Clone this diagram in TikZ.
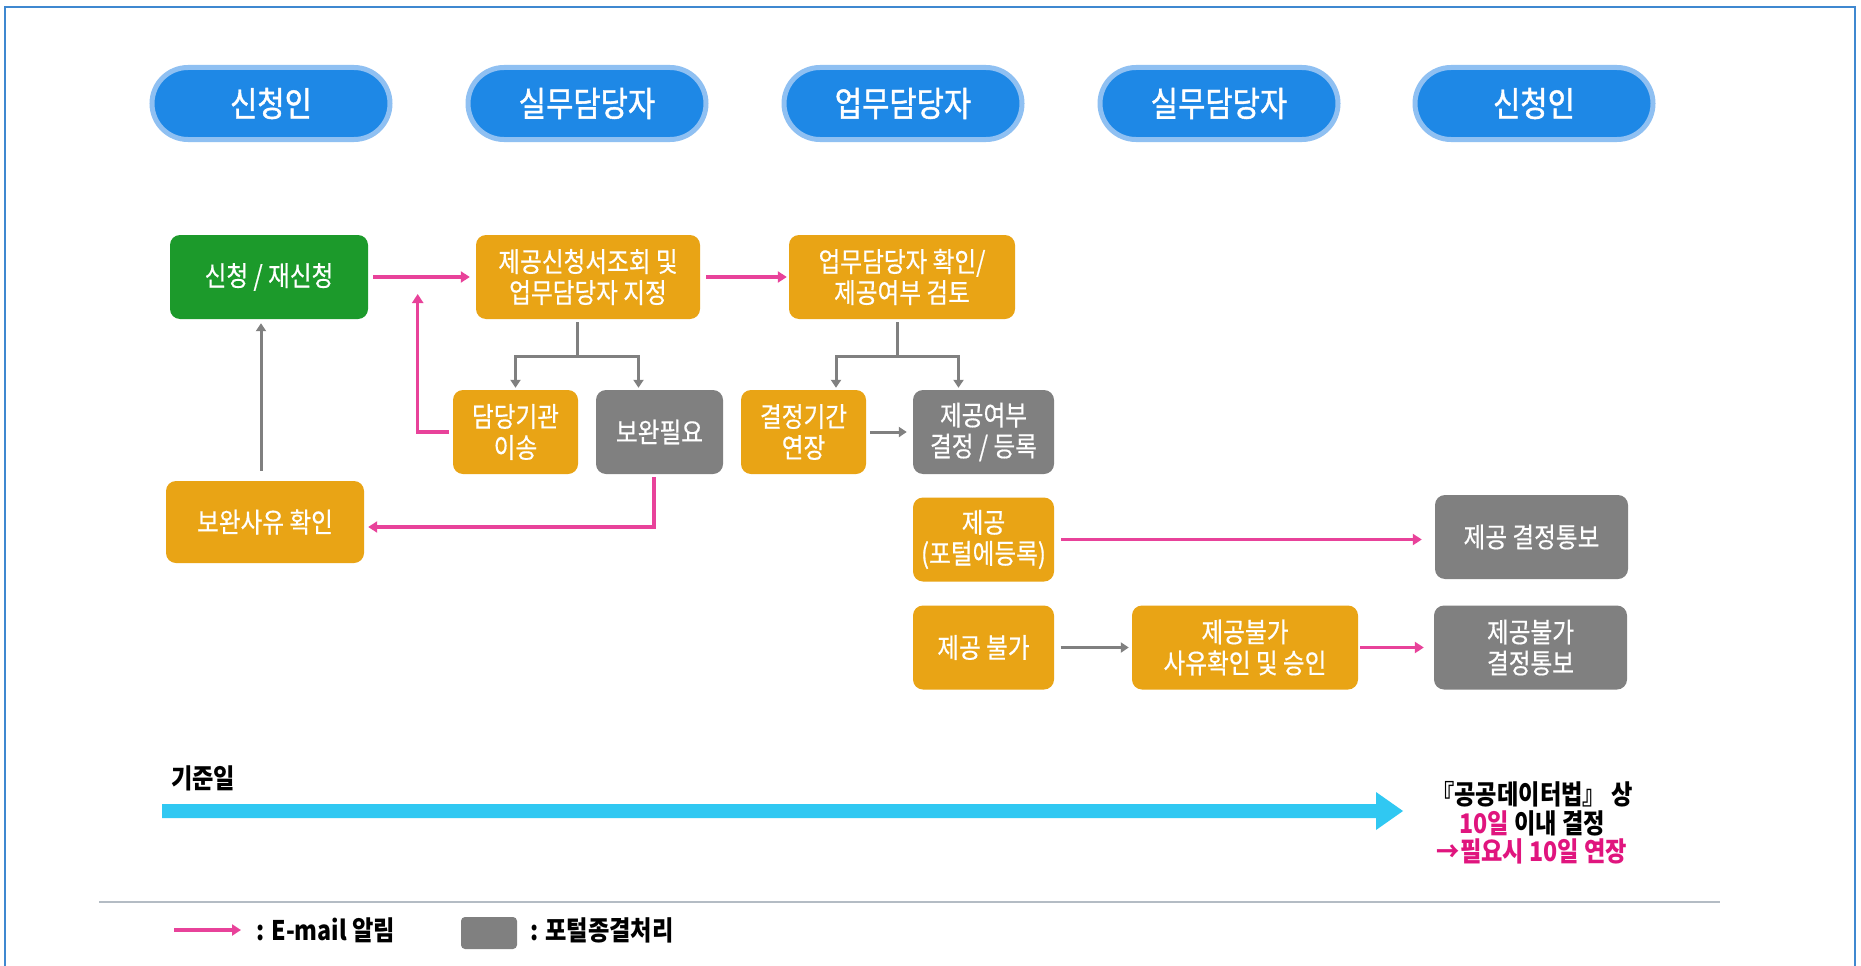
\documentclass[tikz,border=0pt]{standalone}
\usepackage{fontspec}
\setmainfont{Noto Sans CJK KR}
\newfontfamily\cnm[FakeStretch=0.86,FakeBold=0.5]{Noto Sans CJK KR}
\newfontfamily\cnp[FakeStretch=0.86,FakeBold=1.2]{Noto Sans CJK KR}
\newfontfamily\cnb[FakeStretch=0.86]{Noto Sans CJK KR}
\usetikzlibrary{arrows.meta,calc}
\definecolor{cOr}{HTML}{E9A415}
\definecolor{cGr}{HTML}{1C9A2B}
\definecolor{cGy}{HTML}{808080}
\definecolor{cBl}{HTML}{1E88E6}
\definecolor{cBlL}{HTML}{8FC0F2}
\definecolor{cPk}{HTML}{E8429A}
\definecolor{cPkT}{HTML}{E0157E}
\definecolor{cCy}{HTML}{30C8F2}
\definecolor{cFr}{HTML}{3F88D0}
\definecolor{cSep}{HTML}{B4BCC4}
\begin{document}
\begin{tikzpicture}[x=1pt,y=-1pt,
 pill/.style={draw=cBlL, line width=5pt, fill=cBl, rounded corners=36pt, minimum width=238pt, minimum height=72pt, inner sep=0pt, text=white, font=\cnp\fontsize{34.5}{38}\selectfont},
 box/.style={rounded corners=10pt, minimum height=84pt, inner sep=0pt, text=white, align=center, font=\cnm\fontsize{27.5}{31}\selectfont},
 ob/.style={box, fill=cOr}, gb/.style={box, fill=cGy}, grb/.style={box, fill=cGr},
 plink/.style={draw=cPk, line width=3.5pt, -{Triangle[length=9pt,width=11pt]}},
 glink/.style={draw=cGy, line width=3pt, -{Triangle[length=8pt,width=10pt]}},
 gline/.style={draw=cGy, line width=3pt, line cap=rect},
 btext/.style={font=\cnb\fontsize{27}{28.5}\selectfont\bfseries, text=black, inner sep=0pt}
]
\fill[white] (0,0) rectangle (1861,966);
\useasboundingbox (0,0) rectangle (1861,966);
\draw[cFr, line width=2pt] (5,975) -- (5,7) -- (1855,7) -- (1855,975);

% header pills
\node[pill] (p1) at (271,103.5) {신청인};
\node[pill] (p2) at (587,103.5) {실무담당자};
\node[pill] (p3) at (903,103.5) {업무담당자};
\node[pill] (p4) at (1219,103.5) {실무담당자};
\node[pill] (p5) at (1534,103.5) {신청인};

% process boxes
\node[grb, minimum width=198pt] (n1) at (269,277) {신청 / 재신청};
\node[ob, minimum width=224pt] (n2) at (588,277) {제공신청서조회 및\\업무담당자 지정};
\node[ob, minimum width=226pt] (n3) at (902,277) {업무담당자 확인/\\제공여부 검토};
\node[ob, minimum width=125pt] (n4) at (515.5,432) {담당기관\\이송};
\node[gb, minimum width=127pt] (n5) at (659.5,432) {보완필요};
\node[ob, minimum width=125pt] (n6) at (803.5,432) {결정기간\\연장};
\node[gb, minimum width=141pt] (n7) at (983.5,432) {제공여부\\결정 / 등록};
\node[ob, minimum width=198pt, minimum height=82pt] (n8) at (265,522) {보완사유 확인};
\node[ob, minimum width=141pt] (n9) at (983.5,539.5) {제공\\(포털에등록)};
\node[gb, minimum width=193pt] (n10) at (1531.5,537) {제공 결정통보};
\node[ob, minimum width=141pt] (n11) at (983.5,647.5) {제공 불가};
\node[ob, minimum width=226pt] (n12) at (1245,647.5) {제공불가\\사유확인 및 승인};
\node[gb, minimum width=193pt] (n13) at (1530.5,647.5) {제공불가\\결정통보};

% connectors
\draw[plink, shorten <=5pt, shorten >=6pt] (n1) -- (n2);
\draw[plink, shorten <=6pt, shorten >=2pt] (n2) -- (n3);
\coordinate (t1) at (577,356);
\draw[gline, shorten <=4pt] (n2.south -| t1) -- (t1);
\draw[glink, shorten >=2pt] (t1) -| (n4.north);
\draw[glink, shorten >=2pt] (t1) -| ($(n5.north)+(-21,0)$);
\coordinate (t2) at (897,356);
\draw[gline, shorten <=4pt] (n3.south -| t2) -- (t2);
\draw[glink, shorten >=2pt] (t2) -| ($(n6.north)+(32.5,0)$);
\draw[glink, shorten >=2pt] (t2) -| ($(n7.north)+(-25,0)$);
\draw[plink, shorten <=4pt] (n4.west) -| ($(n1.east)!0.46!(n2.west)+(0,17)$);
\draw[glink, shorten <=4pt, shorten >=6pt] (n6) -- (n7);
\draw[glink] ($(n8.north)+(-4,-10)$) -- ($(n1.south)+(-8,4)$);
\draw[plink, shorten <=3pt] ($(n5.south)+(-5.5,0)$) |- ($(n8.east)+(4,5)$);
\draw[plink, shorten <=7pt, shorten >=13pt] (n9.east) -- (n10.west |- n9.east);
\draw[glink, shorten <=6.5pt, shorten >=3pt] (n11) -- (n12);
\draw[plink, shorten <=2pt, shorten >=10pt] (n12) -- (n13);

% timeline
\node[btext, anchor=west] (base) at (171,778) {기준일};
\fill[cCy] (162,804) -- (1376,804) -- (1376,792) -- (1403,811) -- (1376,830) -- (1376,818) -- (162,818) -- cycle;
\node[btext, align=center] (note) at (1532,823)
 {『공공데이터법』 상\\\textcolor{cPkT}{10일} 이내 결정\\\textcolor{cPkT}{→필요시 10일 연장}};

% legend
\draw[cSep, line width=2pt] (99,902) -- (1720,902);
\coordinate (la0) at (174,930);
\coordinate (la1) at (241,930);
\draw[plink] (la0) -- (la1);
\node[btext, anchor=west] (lt1) at (256,930) {: E-mail 알림};
\node[fill=cGy, rounded corners=4pt, minimum width=56pt, minimum height=32pt, inner sep=0pt] (lsq) at (489,933) {};
\node[btext, anchor=west] (lt2) at (530,930) {: 포털종결처리};
\end{tikzpicture}
\end{document}
